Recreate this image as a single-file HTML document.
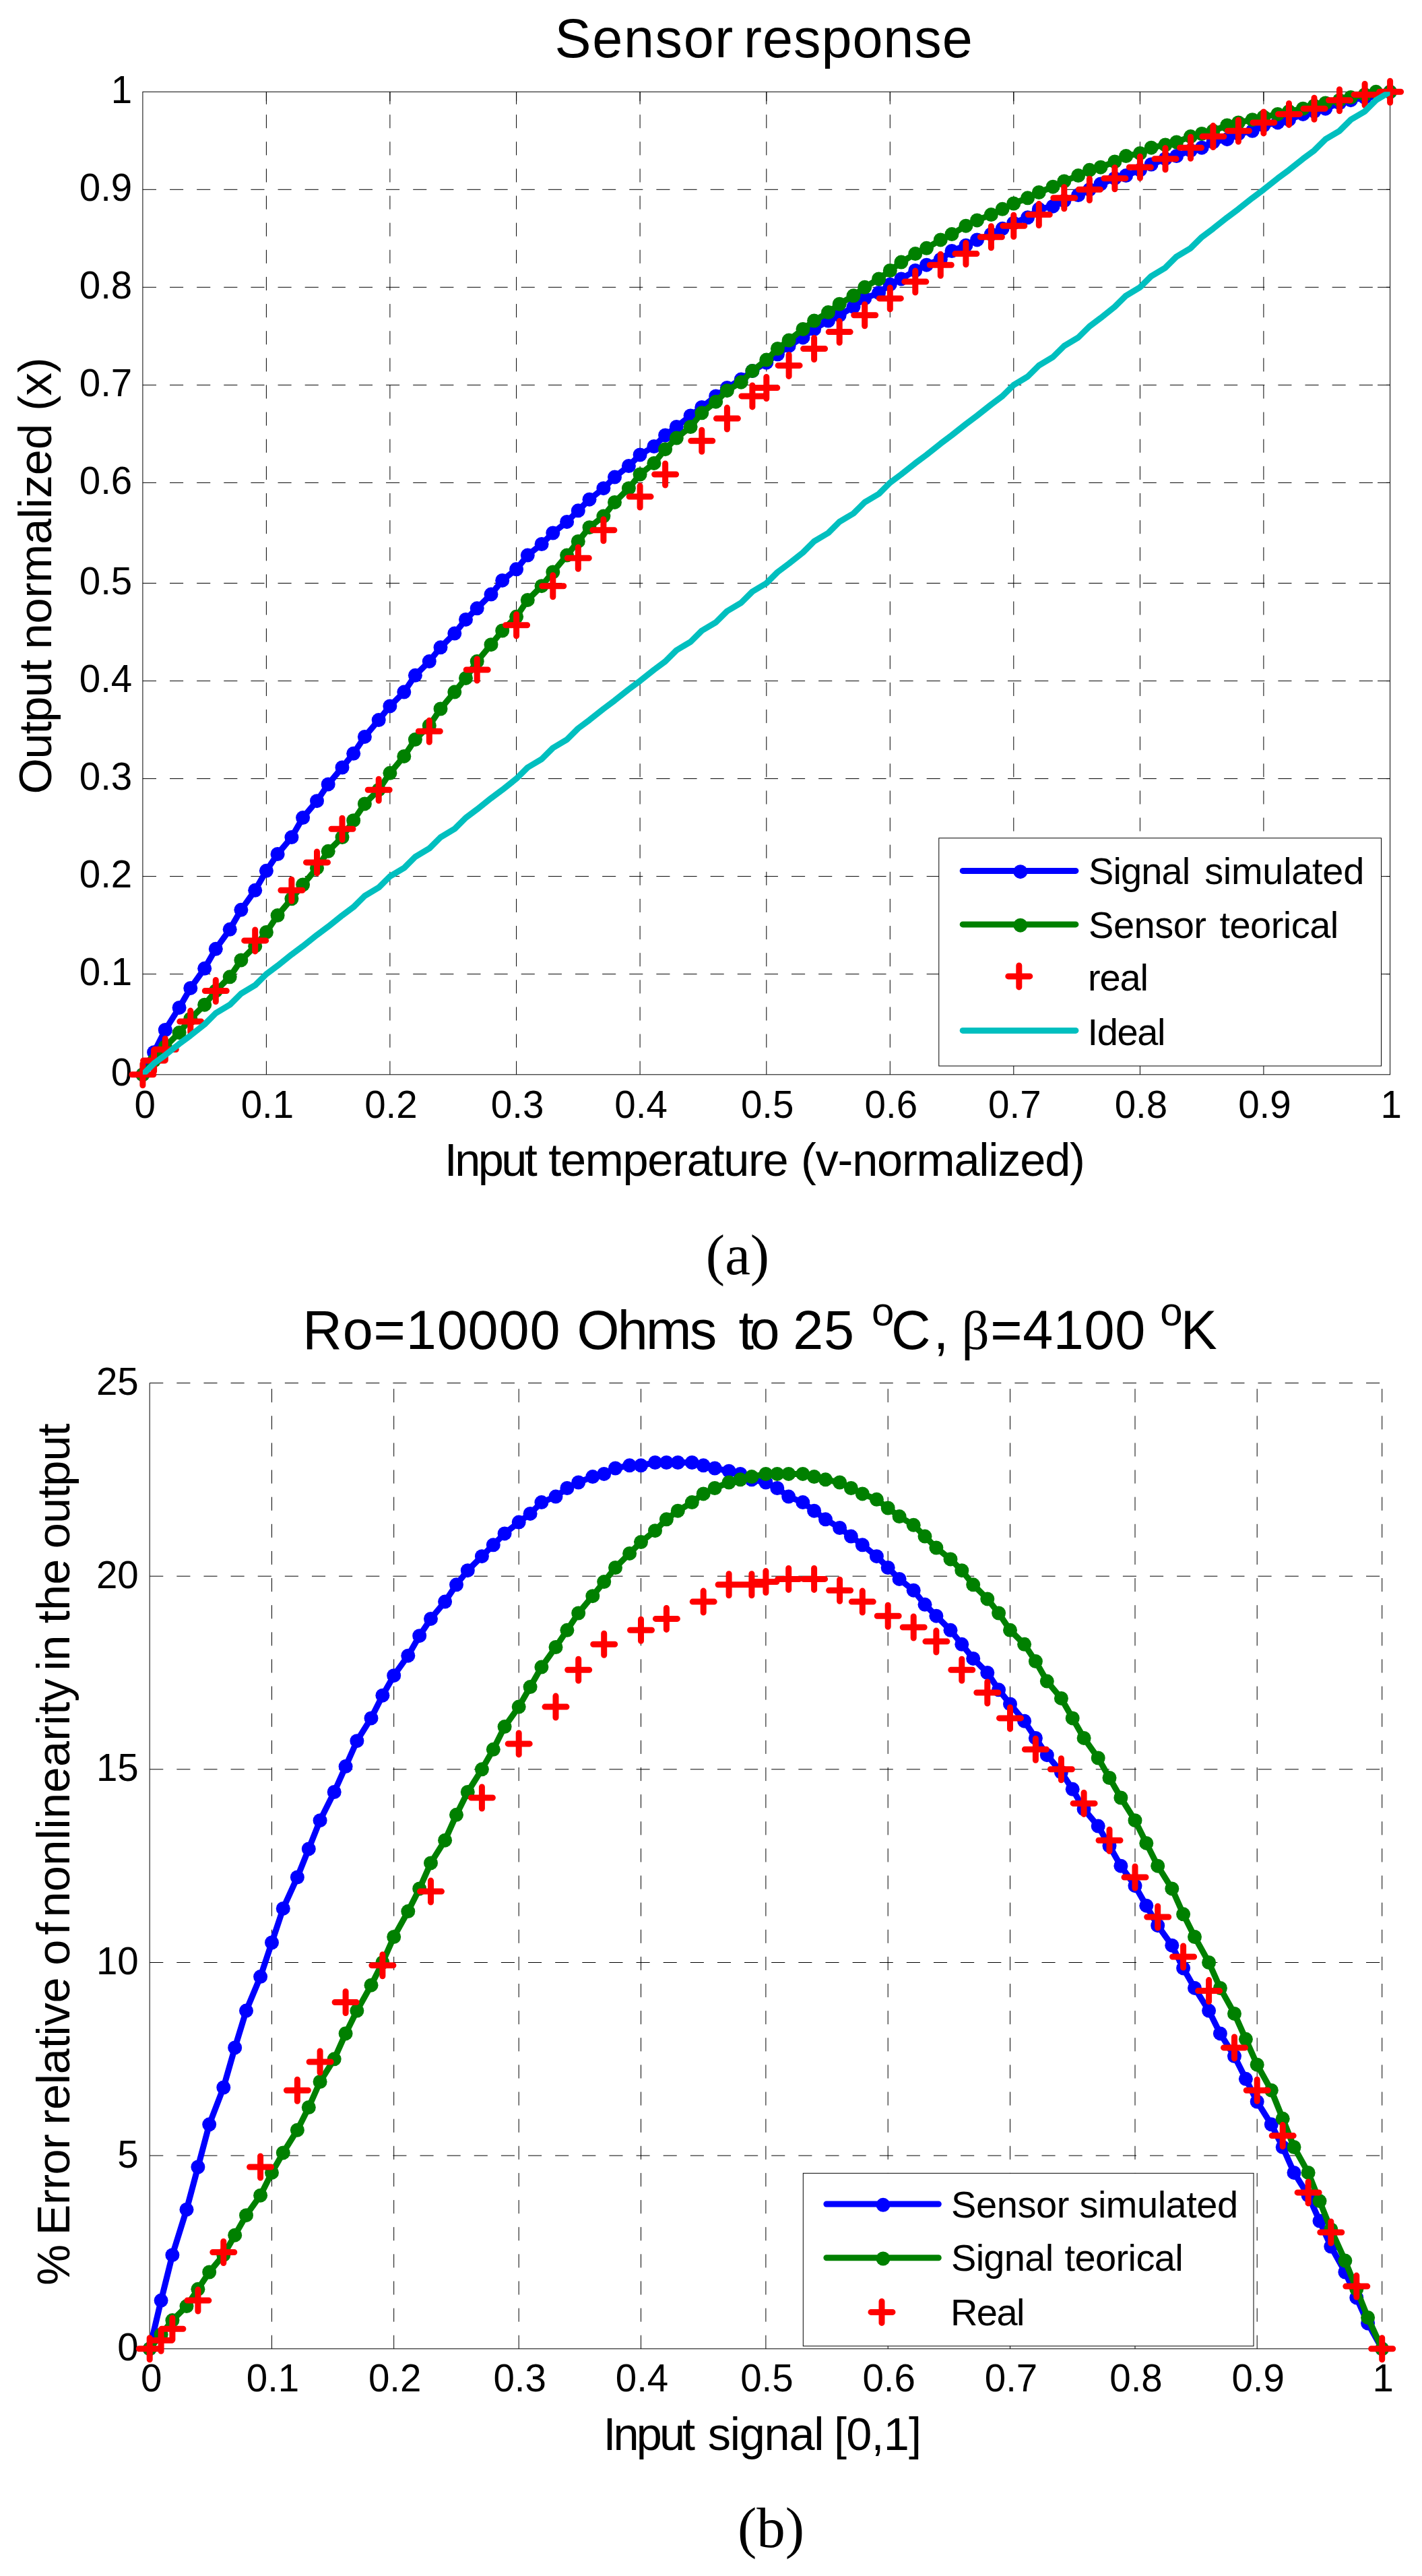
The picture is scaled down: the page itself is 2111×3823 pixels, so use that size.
<!DOCTYPE html>
<html><head><meta charset="utf-8"><title>Sensor response</title>
<style>html,body{margin:0;padding:0;background:#fff;overflow:hidden}svg{display:block}text{font-family:"Liberation Sans", sans-serif;fill:#000}text.s{font-family:"Liberation Serif", serif}</style>
</head><body>
<svg width="2111" height="3823" viewBox="0 0 2111 3823">
<rect width="2111" height="3823" fill="#fff"/>
<defs><clipPath id="c1"><rect x="211.9" y="136.3" width="1851.7" height="1458.5"/></clipPath><clipPath id="c2"><rect x="222.2" y="2052.5" width="1829.5" height="1433.3"/></clipPath></defs>
<g stroke="#000" stroke-width="1" fill="none">
<line x1="395.4" y1="1594.8" x2="395.4" y2="136.3" stroke-dasharray="20.1 20.03"/>
<line x1="395.4" y1="136.3" x2="395.4" y2="154.8" />
<line x1="578.9" y1="1594.8" x2="578.9" y2="136.3" stroke-dasharray="20.1 20.03"/>
<line x1="578.9" y1="136.3" x2="578.9" y2="154.8" />
<line x1="766.6" y1="1594.8" x2="766.6" y2="136.3" stroke-dasharray="20.1 20.03"/>
<line x1="766.6" y1="136.3" x2="766.6" y2="154.8" />
<line x1="950.1" y1="1594.8" x2="950.1" y2="136.3" stroke-dasharray="20.1 20.03"/>
<line x1="950.1" y1="136.3" x2="950.1" y2="154.8" />
<line x1="1137.8" y1="1594.8" x2="1137.8" y2="136.3" stroke-dasharray="20.1 20.03"/>
<line x1="1137.8" y1="136.3" x2="1137.8" y2="154.8" />
<line x1="1321.3" y1="1594.8" x2="1321.3" y2="136.3" stroke-dasharray="20.1 20.03"/>
<line x1="1321.3" y1="136.3" x2="1321.3" y2="154.8" />
<line x1="1504.8" y1="1594.8" x2="1504.8" y2="136.3" stroke-dasharray="20.1 20.03"/>
<line x1="1504.8" y1="136.3" x2="1504.8" y2="154.8" />
<line x1="1692.4" y1="1594.8" x2="1692.4" y2="136.3" stroke-dasharray="20.1 20.03"/>
<line x1="1692.4" y1="136.3" x2="1692.4" y2="154.8" />
<line x1="1875.9" y1="1594.8" x2="1875.9" y2="136.3" stroke-dasharray="20.1 20.03"/>
<line x1="1875.9" y1="136.3" x2="1875.9" y2="154.8" />
<line x1="211.9" y1="1445.6" x2="2063.6" y2="1445.6" stroke-dasharray="20.1 20.03"/>
<line x1="2063.6" y1="1445.6" x2="2045.1" y2="1445.6" />
<line x1="211.9" y1="1300.6" x2="2063.6" y2="1300.6" stroke-dasharray="20.1 20.03"/>
<line x1="2063.6" y1="1300.6" x2="2045.1" y2="1300.6" />
<line x1="211.9" y1="1155.6" x2="2063.6" y2="1155.6" stroke-dasharray="20.1 20.03"/>
<line x1="2063.6" y1="1155.6" x2="2045.1" y2="1155.6" />
<line x1="211.9" y1="1010.6" x2="2063.6" y2="1010.6" stroke-dasharray="20.1 20.03"/>
<line x1="2063.6" y1="1010.6" x2="2045.1" y2="1010.6" />
<line x1="211.9" y1="865.5" x2="2063.6" y2="865.5" stroke-dasharray="20.1 20.03"/>
<line x1="2063.6" y1="865.5" x2="2045.1" y2="865.5" />
<line x1="211.9" y1="716.4" x2="2063.6" y2="716.4" stroke-dasharray="20.1 20.03"/>
<line x1="2063.6" y1="716.4" x2="2045.1" y2="716.4" />
<line x1="211.9" y1="571.4" x2="2063.6" y2="571.4" stroke-dasharray="20.1 20.03"/>
<line x1="2063.6" y1="571.4" x2="2045.1" y2="571.4" />
<line x1="211.9" y1="426.3" x2="2063.6" y2="426.3" stroke-dasharray="20.1 20.03"/>
<line x1="2063.6" y1="426.3" x2="2045.1" y2="426.3" />
<line x1="211.9" y1="281.3" x2="2063.6" y2="281.3" stroke-dasharray="20.1 20.03"/>
<line x1="2063.6" y1="281.3" x2="2045.1" y2="281.3" />
<rect x="211.9" y="136.3" width="1851.7" height="1458.5"/>
</g>
<text x="215.1" y="1658.5" font-size="56.5" text-anchor="middle">0</text>
<text x="396.9" y="1658.5" font-size="56.5" text-anchor="middle">0.1</text>
<text x="580.4" y="1658.5" font-size="56.5" text-anchor="middle">0.2</text>
<text x="768.1" y="1658.5" font-size="56.5" text-anchor="middle">0.3</text>
<text x="951.6" y="1658.5" font-size="56.5" text-anchor="middle">0.4</text>
<text x="1139.2" y="1658.5" font-size="56.5" text-anchor="middle">0.5</text>
<text x="1322.8" y="1658.5" font-size="56.5" text-anchor="middle">0.6</text>
<text x="1506.3" y="1658.5" font-size="56.5" text-anchor="middle">0.7</text>
<text x="1693.9" y="1658.5" font-size="56.5" text-anchor="middle">0.8</text>
<text x="1877.4" y="1658.5" font-size="56.5" text-anchor="middle">0.9</text>
<text x="2065.1" y="1658.5" font-size="56.5" text-anchor="middle">1</text>
<text x="196.3" y="1611.3" font-size="56.5" text-anchor="end">0</text>
<text x="196.3" y="1462.1" font-size="56.5" text-anchor="end">0.1</text>
<text x="196.3" y="1317.1" font-size="56.5" text-anchor="end">0.2</text>
<text x="196.3" y="1172.1" font-size="56.5" text-anchor="end">0.3</text>
<text x="196.3" y="1027.1" font-size="56.5" text-anchor="end">0.4</text>
<text x="196.3" y="882" font-size="56.5" text-anchor="end">0.5</text>
<text x="196.3" y="732.9" font-size="56.5" text-anchor="end">0.6</text>
<text x="196.3" y="587.9" font-size="56.5" text-anchor="end">0.7</text>
<text x="196.3" y="442.8" font-size="56.5" text-anchor="end">0.8</text>
<text x="196.3" y="297.8" font-size="56.5" text-anchor="end">0.9</text>
<text x="196.3" y="152.8" font-size="56.5" text-anchor="end">1</text>
<polyline points="211.9,1594.8 228.6,1561.7 245.3,1528.5 266.1,1495.4 282.8,1466.4 303.7,1437.3 320.3,1408.3 341.2,1379.3 357.9,1350.3 378.7,1321.3 395.4,1292.3 412.1,1267.5 432.9,1242.6 449.6,1213.6 470.5,1188.7 487.2,1163.9 508,1139 524.7,1118.3 541.4,1093.4 562.2,1068.6 578.9,1047.9 599.8,1027.1 616.4,1002.3 637.3,981.6 654,960.8 674.8,940.1 691.5,919.4 708.2,902.8 729,882.1 745.7,861.4 766.6,844.8 783.3,824.1 804.1,807.5 820.8,791 841.6,774.4 858.3,757.8 875,741.2 895.9,724.7 912.5,708.1 933.4,691.5 950.1,675 970.9,662.5 987.6,645.9 1004.3,633.5 1025.1,616.9 1041.8,604.5 1062.7,587.9 1079.4,575.5 1100.2,563.1 1116.9,550.6 1137.8,538.2 1154.4,525.8 1171.1,513.4 1192,500.9 1208.6,488.5 1229.5,476.1 1246.2,467.8 1267,455.3 1283.7,442.9 1304.6,434.6 1321.3,422.2 1337.9,413.9 1358.8,401.5 1375.5,393.2 1396.3,384.9 1413,372.5 1433.9,364.2 1450.5,355.9 1471.4,347.6 1488.1,339.3 1504.8,331 1525.6,322.8 1542.3,310.3 1563.1,306.2 1579.8,297.9 1600.7,289.6 1617.4,281.3 1634,273 1654.9,264.7 1671.6,260.6 1692.4,252.3 1709.1,244 1730,235.7 1746.6,231.6 1767.5,223.3 1784.2,219.2 1800.9,210.9 1821.7,206.7 1838.4,198.5 1859.2,194.3 1875.9,186 1896.8,181.9 1913.5,177.7 1934.3,169.4 1951,165.3 1967.7,161.2 1988.5,152.9 2005.2,148.7 2026.1,144.6 2042.7,140.4 2063.6,136.3" fill="none" stroke="#0000ff" stroke-width="9.0" stroke-linejoin="round" stroke-linecap="round" clip-path="url(#c1)"/>
<g fill="#0000ff"><circle cx="211.9" cy="1594.8" r="10.5"/><circle cx="228.6" cy="1561.7" r="10.5"/><circle cx="245.3" cy="1528.5" r="10.5"/><circle cx="266.1" cy="1495.4" r="10.5"/><circle cx="282.8" cy="1466.4" r="10.5"/><circle cx="303.7" cy="1437.3" r="10.5"/><circle cx="320.3" cy="1408.3" r="10.5"/><circle cx="341.2" cy="1379.3" r="10.5"/><circle cx="357.9" cy="1350.3" r="10.5"/><circle cx="378.7" cy="1321.3" r="10.5"/><circle cx="395.4" cy="1292.3" r="10.5"/><circle cx="412.1" cy="1267.5" r="10.5"/><circle cx="432.9" cy="1242.6" r="10.5"/><circle cx="449.6" cy="1213.6" r="10.5"/><circle cx="470.5" cy="1188.7" r="10.5"/><circle cx="487.2" cy="1163.9" r="10.5"/><circle cx="508" cy="1139" r="10.5"/><circle cx="524.7" cy="1118.3" r="10.5"/><circle cx="541.4" cy="1093.4" r="10.5"/><circle cx="562.2" cy="1068.6" r="10.5"/><circle cx="578.9" cy="1047.9" r="10.5"/><circle cx="599.8" cy="1027.1" r="10.5"/><circle cx="616.4" cy="1002.3" r="10.5"/><circle cx="637.3" cy="981.6" r="10.5"/><circle cx="654" cy="960.8" r="10.5"/><circle cx="674.8" cy="940.1" r="10.5"/><circle cx="691.5" cy="919.4" r="10.5"/><circle cx="708.2" cy="902.8" r="10.5"/><circle cx="729" cy="882.1" r="10.5"/><circle cx="745.7" cy="861.4" r="10.5"/><circle cx="766.6" cy="844.8" r="10.5"/><circle cx="783.3" cy="824.1" r="10.5"/><circle cx="804.1" cy="807.5" r="10.5"/><circle cx="820.8" cy="791" r="10.5"/><circle cx="841.6" cy="774.4" r="10.5"/><circle cx="858.3" cy="757.8" r="10.5"/><circle cx="875" cy="741.2" r="10.5"/><circle cx="895.9" cy="724.7" r="10.5"/><circle cx="912.5" cy="708.1" r="10.5"/><circle cx="933.4" cy="691.5" r="10.5"/><circle cx="950.1" cy="675" r="10.5"/><circle cx="970.9" cy="662.5" r="10.5"/><circle cx="987.6" cy="645.9" r="10.5"/><circle cx="1004.3" cy="633.5" r="10.5"/><circle cx="1025.1" cy="616.9" r="10.5"/><circle cx="1041.8" cy="604.5" r="10.5"/><circle cx="1062.7" cy="587.9" r="10.5"/><circle cx="1079.4" cy="575.5" r="10.5"/><circle cx="1100.2" cy="563.1" r="10.5"/><circle cx="1116.9" cy="550.6" r="10.5"/><circle cx="1137.8" cy="538.2" r="10.5"/><circle cx="1154.4" cy="525.8" r="10.5"/><circle cx="1171.1" cy="513.4" r="10.5"/><circle cx="1192" cy="500.9" r="10.5"/><circle cx="1208.6" cy="488.5" r="10.5"/><circle cx="1229.5" cy="476.1" r="10.5"/><circle cx="1246.2" cy="467.8" r="10.5"/><circle cx="1267" cy="455.3" r="10.5"/><circle cx="1283.7" cy="442.9" r="10.5"/><circle cx="1304.6" cy="434.6" r="10.5"/><circle cx="1321.3" cy="422.2" r="10.5"/><circle cx="1337.9" cy="413.9" r="10.5"/><circle cx="1358.8" cy="401.5" r="10.5"/><circle cx="1375.5" cy="393.2" r="10.5"/><circle cx="1396.3" cy="384.9" r="10.5"/><circle cx="1413" cy="372.5" r="10.5"/><circle cx="1433.9" cy="364.2" r="10.5"/><circle cx="1450.5" cy="355.9" r="10.5"/><circle cx="1471.4" cy="347.6" r="10.5"/><circle cx="1488.1" cy="339.3" r="10.5"/><circle cx="1504.8" cy="331" r="10.5"/><circle cx="1525.6" cy="322.8" r="10.5"/><circle cx="1542.3" cy="310.3" r="10.5"/><circle cx="1563.1" cy="306.2" r="10.5"/><circle cx="1579.8" cy="297.9" r="10.5"/><circle cx="1600.7" cy="289.6" r="10.5"/><circle cx="1617.4" cy="281.3" r="10.5"/><circle cx="1634" cy="273" r="10.5"/><circle cx="1654.9" cy="264.7" r="10.5"/><circle cx="1671.6" cy="260.6" r="10.5"/><circle cx="1692.4" cy="252.3" r="10.5"/><circle cx="1709.1" cy="244" r="10.5"/><circle cx="1730" cy="235.7" r="10.5"/><circle cx="1746.6" cy="231.6" r="10.5"/><circle cx="1767.5" cy="223.3" r="10.5"/><circle cx="1784.2" cy="219.2" r="10.5"/><circle cx="1800.9" cy="210.9" r="10.5"/><circle cx="1821.7" cy="206.7" r="10.5"/><circle cx="1838.4" cy="198.5" r="10.5"/><circle cx="1859.2" cy="194.3" r="10.5"/><circle cx="1875.9" cy="186" r="10.5"/><circle cx="1896.8" cy="181.9" r="10.5"/><circle cx="1913.5" cy="177.7" r="10.5"/><circle cx="1934.3" cy="169.4" r="10.5"/><circle cx="1951" cy="165.3" r="10.5"/><circle cx="1967.7" cy="161.2" r="10.5"/><circle cx="1988.5" cy="152.9" r="10.5"/><circle cx="2005.2" cy="148.7" r="10.5"/><circle cx="2026.1" cy="144.6" r="10.5"/><circle cx="2042.7" cy="140.4" r="10.5"/><circle cx="2063.6" cy="136.3" r="10.5"/></g>
<polyline points="211.9,1594.8 228.6,1574.1 245.3,1553.4 266.1,1532.6 282.8,1511.9 303.7,1491.2 320.3,1470.5 341.2,1449.8 357.9,1424.9 378.7,1404.2 395.4,1383.5 412.1,1358.6 432.9,1333.8 449.6,1313 470.5,1288.2 487.2,1263.3 508,1242.6 524.7,1217.7 541.4,1192.9 562.2,1172.2 578.9,1147.3 599.8,1122.4 616.4,1097.6 637.3,1076.9 654,1052 674.8,1027.1 691.5,1006.4 708.2,981.6 729,956.7 745.7,936 766.6,915.3 783.3,890.4 804.1,869.7 820.8,849 841.6,824.1 858.3,803.4 875,782.7 895.9,766.1 912.5,745.4 933.4,724.7 950.1,704 970.9,687.4 987.6,666.7 1004.3,650.1 1025.1,633.5 1041.8,612.8 1062.7,596.2 1079.4,579.7 1100.2,567.2 1116.9,550.6 1137.8,534.1 1154.4,517.5 1171.1,505.1 1192,488.5 1208.6,476.1 1229.5,463.6 1246.2,451.2 1267,438.8 1283.7,426.3 1304.6,413.9 1321.3,401.5 1337.9,389.1 1358.8,376.6 1375.5,368.3 1396.3,355.9 1413,347.6 1433.9,335.2 1450.5,326.9 1471.4,318.6 1488.1,310.3 1504.8,302 1525.6,293.8 1542.3,285.5 1563.1,277.2 1579.8,268.9 1600.7,260.6 1617.4,252.3 1634,248.2 1654.9,239.9 1671.6,231.6 1692.4,227.5 1709.1,219.2 1730,215 1746.6,210.9 1767.5,202.6 1784.2,198.5 1800.9,194.3 1821.7,186 1838.4,181.9 1859.2,177.7 1875.9,173.6 1896.8,169.4 1913.5,165.3 1934.3,161.2 1951,157 1967.7,152.9 1988.5,148.7 2005.2,144.6 2026.1,140.4 2042.7,136.3 2063.6,136.3" fill="none" stroke="#008000" stroke-width="9.0" stroke-linejoin="round" stroke-linecap="round" clip-path="url(#c1)"/>
<g fill="#008000"><circle cx="211.9" cy="1594.8" r="10.5"/><circle cx="228.6" cy="1574.1" r="10.5"/><circle cx="245.3" cy="1553.4" r="10.5"/><circle cx="266.1" cy="1532.6" r="10.5"/><circle cx="282.8" cy="1511.9" r="10.5"/><circle cx="303.7" cy="1491.2" r="10.5"/><circle cx="320.3" cy="1470.5" r="10.5"/><circle cx="341.2" cy="1449.8" r="10.5"/><circle cx="357.9" cy="1424.9" r="10.5"/><circle cx="378.7" cy="1404.2" r="10.5"/><circle cx="395.4" cy="1383.5" r="10.5"/><circle cx="412.1" cy="1358.6" r="10.5"/><circle cx="432.9" cy="1333.8" r="10.5"/><circle cx="449.6" cy="1313" r="10.5"/><circle cx="470.5" cy="1288.2" r="10.5"/><circle cx="487.2" cy="1263.3" r="10.5"/><circle cx="508" cy="1242.6" r="10.5"/><circle cx="524.7" cy="1217.7" r="10.5"/><circle cx="541.4" cy="1192.9" r="10.5"/><circle cx="562.2" cy="1172.2" r="10.5"/><circle cx="578.9" cy="1147.3" r="10.5"/><circle cx="599.8" cy="1122.4" r="10.5"/><circle cx="616.4" cy="1097.6" r="10.5"/><circle cx="637.3" cy="1076.9" r="10.5"/><circle cx="654" cy="1052" r="10.5"/><circle cx="674.8" cy="1027.1" r="10.5"/><circle cx="691.5" cy="1006.4" r="10.5"/><circle cx="708.2" cy="981.6" r="10.5"/><circle cx="729" cy="956.7" r="10.5"/><circle cx="745.7" cy="936" r="10.5"/><circle cx="766.6" cy="915.3" r="10.5"/><circle cx="783.3" cy="890.4" r="10.5"/><circle cx="804.1" cy="869.7" r="10.5"/><circle cx="820.8" cy="849" r="10.5"/><circle cx="841.6" cy="824.1" r="10.5"/><circle cx="858.3" cy="803.4" r="10.5"/><circle cx="875" cy="782.7" r="10.5"/><circle cx="895.9" cy="766.1" r="10.5"/><circle cx="912.5" cy="745.4" r="10.5"/><circle cx="933.4" cy="724.7" r="10.5"/><circle cx="950.1" cy="704" r="10.5"/><circle cx="970.9" cy="687.4" r="10.5"/><circle cx="987.6" cy="666.7" r="10.5"/><circle cx="1004.3" cy="650.1" r="10.5"/><circle cx="1025.1" cy="633.5" r="10.5"/><circle cx="1041.8" cy="612.8" r="10.5"/><circle cx="1062.7" cy="596.2" r="10.5"/><circle cx="1079.4" cy="579.7" r="10.5"/><circle cx="1100.2" cy="567.2" r="10.5"/><circle cx="1116.9" cy="550.6" r="10.5"/><circle cx="1137.8" cy="534.1" r="10.5"/><circle cx="1154.4" cy="517.5" r="10.5"/><circle cx="1171.1" cy="505.1" r="10.5"/><circle cx="1192" cy="488.5" r="10.5"/><circle cx="1208.6" cy="476.1" r="10.5"/><circle cx="1229.5" cy="463.6" r="10.5"/><circle cx="1246.2" cy="451.2" r="10.5"/><circle cx="1267" cy="438.8" r="10.5"/><circle cx="1283.7" cy="426.3" r="10.5"/><circle cx="1304.6" cy="413.9" r="10.5"/><circle cx="1321.3" cy="401.5" r="10.5"/><circle cx="1337.9" cy="389.1" r="10.5"/><circle cx="1358.8" cy="376.6" r="10.5"/><circle cx="1375.5" cy="368.3" r="10.5"/><circle cx="1396.3" cy="355.9" r="10.5"/><circle cx="1413" cy="347.6" r="10.5"/><circle cx="1433.9" cy="335.2" r="10.5"/><circle cx="1450.5" cy="326.9" r="10.5"/><circle cx="1471.4" cy="318.6" r="10.5"/><circle cx="1488.1" cy="310.3" r="10.5"/><circle cx="1504.8" cy="302" r="10.5"/><circle cx="1525.6" cy="293.8" r="10.5"/><circle cx="1542.3" cy="285.5" r="10.5"/><circle cx="1563.1" cy="277.2" r="10.5"/><circle cx="1579.8" cy="268.9" r="10.5"/><circle cx="1600.7" cy="260.6" r="10.5"/><circle cx="1617.4" cy="252.3" r="10.5"/><circle cx="1634" cy="248.2" r="10.5"/><circle cx="1654.9" cy="239.9" r="10.5"/><circle cx="1671.6" cy="231.6" r="10.5"/><circle cx="1692.4" cy="227.5" r="10.5"/><circle cx="1709.1" cy="219.2" r="10.5"/><circle cx="1730" cy="215" r="10.5"/><circle cx="1746.6" cy="210.9" r="10.5"/><circle cx="1767.5" cy="202.6" r="10.5"/><circle cx="1784.2" cy="198.5" r="10.5"/><circle cx="1800.9" cy="194.3" r="10.5"/><circle cx="1821.7" cy="186" r="10.5"/><circle cx="1838.4" cy="181.9" r="10.5"/><circle cx="1859.2" cy="177.7" r="10.5"/><circle cx="1875.9" cy="173.6" r="10.5"/><circle cx="1896.8" cy="169.4" r="10.5"/><circle cx="1913.5" cy="165.3" r="10.5"/><circle cx="1934.3" cy="161.2" r="10.5"/><circle cx="1951" cy="157" r="10.5"/><circle cx="1967.7" cy="152.9" r="10.5"/><circle cx="1988.5" cy="148.7" r="10.5"/><circle cx="2005.2" cy="144.6" r="10.5"/><circle cx="2026.1" cy="140.4" r="10.5"/><circle cx="2042.7" cy="136.3" r="10.5"/><circle cx="2063.6" cy="136.3" r="10.5"/></g>
<path d="M195.9 1594.8H227.9M211.9 1578.8V1610.8M212.6 1574.1H244.6M228.6 1558.1V1590.1M229.3 1557.5H261.3M245.3 1541.5V1573.5M266.8 1516.1H298.8M282.8 1500.1V1532.1M304.3 1470.5H336.3M320.3 1454.5V1486.5M362.7 1395.9H394.7M378.7 1379.9V1411.9M416.9 1321.3H448.9M432.9 1305.3V1337.3M454.5 1279.9H486.5M470.5 1263.9V1295.9M492 1230.2H524M508 1214.2V1246.2M546.2 1172.2H578.2M562.2 1156.2V1188.2M621.3 1085.2H653.3M637.3 1069.2V1101.2M692.2 994H724.2M708.2 978V1010M750.6 927.7H782.6M766.6 911.7V943.7M804.8 869.7H836.8M820.8 853.7V885.7M842.3 828.3H874.3M858.3 812.3V844.3M879.9 786.8H911.9M895.9 770.8V802.8M934.1 737.1H966.1M950.1 721.1V753.1M971.6 704H1003.6M987.6 688V720M1025.8 654.2H1057.8M1041.8 638.2V670.2M1063.4 621.1H1095.4M1079.4 605.1V637.1M1100.9 587.9H1132.9M1116.9 571.9V603.9M1121.8 575.5H1153.8M1137.8 559.5V591.5M1155.1 542.4H1187.1M1171.1 526.4V558.4M1192.6 517.5H1224.6M1208.6 501.5V533.5M1230.2 492.6H1262.2M1246.2 476.6V508.6M1267.7 467.8H1299.7M1283.7 451.8V483.8M1305.3 442.9H1337.3M1321.3 426.9V458.9M1342.8 418.1H1374.8M1358.8 402.1V434.1M1380.3 393.2H1412.3M1396.3 377.2V409.2M1417.9 376.6H1449.9M1433.9 360.6V392.6M1455.4 351.8H1487.4M1471.4 335.8V367.8M1488.8 335.2H1520.8M1504.8 319.2V351.2M1526.3 318.6H1558.3M1542.3 302.6V334.6M1563.8 293.8H1595.8M1579.8 277.8V309.8M1601.4 281.3H1633.4M1617.4 265.3V297.3M1638.9 264.7H1670.9M1654.9 248.7V280.7M1676.4 248.2H1708.4M1692.4 232.2V264.2M1714 235.7H1746M1730 219.7V251.7M1751.5 219.2H1783.5M1767.5 203.2V235.2M1784.9 202.6H1816.9M1800.9 186.6V218.6M1822.4 194.3H1854.4M1838.4 178.3V210.3M1859.9 181.9H1891.9M1875.9 165.9V197.9M1897.5 169.4H1929.5M1913.5 153.4V185.4M1935 161.2H1967M1951 145.2V177.2M1972.5 148.7H2004.5M1988.5 132.7V164.7M2010.1 140.4H2042.1M2026.1 124.4V156.4M2047.6 136.3H2079.6M2063.6 120.3V152.3" fill="none" stroke="#ff0000" stroke-width="9.0" stroke-linecap="round"/>
<polyline points="211.9,1594.8 228.6,1578.2 245.3,1565.8 266.1,1549.2 282.8,1536.8 303.7,1520.2 320.3,1503.6 341.2,1491.2 357.9,1474.6 378.7,1462.2 395.4,1445.6 412.1,1433.2 432.9,1416.6 449.6,1404.2 470.5,1387.6 487.2,1375.2 508,1358.6 524.7,1346.2 541.4,1329.6 562.2,1317.2 578.9,1300.6 599.8,1288.2 616.4,1271.6 637.3,1259.2 654,1242.6 674.8,1230.2 691.5,1213.6 708.2,1201.2 729,1184.6 745.7,1172.2 766.6,1155.6 783.3,1139 804.1,1126.6 820.8,1110 841.6,1097.6 858.3,1081 875,1068.6 895.9,1052 912.5,1039.6 933.4,1023 950.1,1010.6 970.9,994 987.6,981.6 1004.3,965 1025.1,952.6 1041.8,936 1062.7,923.6 1079.4,907 1100.2,894.6 1116.9,878 1137.8,865.5 1154.4,849 1171.1,836.5 1192,820 1208.6,803.4 1229.5,791 1246.2,774.4 1267,762 1283.7,745.4 1304.6,733 1321.3,716.4 1337.9,704 1358.8,687.4 1375.5,675 1396.3,658.4 1413,645.9 1433.9,629.4 1450.5,616.9 1471.4,600.4 1488.1,587.9 1504.8,571.4 1525.6,558.9 1542.3,542.4 1563.1,529.9 1579.8,513.4 1600.7,500.9 1617.4,484.4 1634,471.9 1654.9,455.3 1671.6,438.8 1692.4,426.3 1709.1,409.8 1730,397.3 1746.6,380.8 1767.5,368.3 1784.2,351.8 1800.9,339.3 1821.7,322.8 1838.4,310.3 1859.2,293.8 1875.9,281.3 1896.8,264.7 1913.5,252.3 1934.3,235.7 1951,223.3 1967.7,206.7 1988.5,194.3 2005.2,177.7 2026.1,165.3 2042.7,148.7 2063.6,136.3" fill="none" stroke="#00bfbf" stroke-width="9.0" stroke-linejoin="round" stroke-linecap="round" clip-path="url(#c1)"/>
<text x="823.6" y="85" font-size="81" letter-spacing="1.61">Sensor</text>
<text x="1104.1" y="85" font-size="81" letter-spacing="0.93">response</text>
<text x="659.8" y="1745.4" font-size="68.5" letter-spacing="-3.61">Input</text>
<text x="814.3" y="1745.4" font-size="68.5" letter-spacing="-1.31">temperature</text>
<text x="1189" y="1745.4" font-size="68.5" letter-spacing="-1.22">(v-normalized)</text>
<text x="76.3" y="1178.4" font-size="68.5" letter-spacing="-1.26" transform="rotate(-90 76.3 1178.4)">Output</text>
<text x="76.3" y="963.5" font-size="68.5" letter-spacing="-0.06" transform="rotate(-90 76.3 963.5)">normalized</text>
<text x="76.3" y="609.8" font-size="68.5" letter-spacing="-0.28" transform="rotate(-90 76.3 609.8)">(x)</text>
<text x="1095" y="1890.5" font-size="85" text-anchor="middle" class="s">(a)</text>
<rect x="1393.8" y="1243.8" width="656.7" height="338.2" fill="#fff" stroke="#000" stroke-width="1"/>
<line x1="1429.2" y1="1292.4" x2="1596.9" y2="1292.4" stroke="#0000ff" stroke-width="9.0" stroke-linecap="round"/>
<circle cx="1514.8" cy="1293.7" r="10.5" fill="#0000ff"/>
<text x="1616.1" y="1312.2" font-size="56" letter-spacing="-0.89">Signal</text>
<text x="1788.2" y="1312.2" font-size="56" letter-spacing="-0.32">simulated</text>
<line x1="1429.2" y1="1371.9" x2="1596.9" y2="1371.9" stroke="#008000" stroke-width="9.0" stroke-linecap="round"/>
<circle cx="1514.8" cy="1373.2" r="10.5" fill="#008000"/>
<text x="1616.1" y="1392" font-size="56" letter-spacing="-0.52">Sensor</text>
<text x="1810.5" y="1392" font-size="56" letter-spacing="-0.55">teorical</text>
<path d="M1496.8 1448.9H1528.8M1512.8 1432.9V1464.9" fill="none" stroke="#ff0000" stroke-width="9.0" stroke-linecap="round"/>
<text x="1615.1" y="1469.6" font-size="56" letter-spacing="-1.15">real</text>
<line x1="1429.2" y1="1529.4" x2="1596.9" y2="1529.4" stroke="#00bfbf" stroke-width="9.0" stroke-linecap="round"/>
<text x="1614.6" y="1550.6" font-size="56" letter-spacing="-1.40">Ideal</text>
<g stroke="#000" stroke-width="1" fill="none">
<line x1="403.5" y1="3485.8" x2="403.5" y2="2052.5" stroke-dasharray="20.1 20.03"/>
<line x1="584.7" y1="3485.8" x2="584.7" y2="2052.5" stroke-dasharray="20.1 20.03"/>
<line x1="770.2" y1="3485.8" x2="770.2" y2="2052.5" stroke-dasharray="20.1 20.03"/>
<line x1="951.5" y1="3485.8" x2="951.5" y2="2052.5" stroke-dasharray="20.1 20.03"/>
<line x1="1136.9" y1="3485.8" x2="1136.9" y2="2052.5" stroke-dasharray="20.1 20.03"/>
<line x1="1318.2" y1="3485.8" x2="1318.2" y2="2052.5" stroke-dasharray="20.1 20.03"/>
<line x1="1499.5" y1="3485.8" x2="1499.5" y2="2052.5" stroke-dasharray="20.1 20.03"/>
<line x1="1685" y1="3485.8" x2="1685" y2="2052.5" stroke-dasharray="20.1 20.03"/>
<line x1="1866.2" y1="3485.8" x2="1866.2" y2="2052.5" stroke-dasharray="20.1 20.03"/>
<line x1="2051.7" y1="3485.8" x2="2051.7" y2="2052.5" stroke-dasharray="20.1 20.03"/>
<line x1="222.2" y1="3199.1" x2="2051.7" y2="3199.1" stroke-dasharray="20.1 20.03"/>
<line x1="222.2" y1="2912.5" x2="2051.7" y2="2912.5" stroke-dasharray="20.1 20.03"/>
<line x1="222.2" y1="2625.8" x2="2051.7" y2="2625.8" stroke-dasharray="20.1 20.03"/>
<line x1="222.2" y1="2339.2" x2="2051.7" y2="2339.2" stroke-dasharray="20.1 20.03"/>
<line x1="222.2" y1="2052.5" x2="2051.7" y2="2052.5" stroke-dasharray="20.1 20.03"/>
<line x1="222.2" y1="2052.5" x2="222.2" y2="3485.8" />
<line x1="222.2" y1="3485.8" x2="2051.7" y2="3485.8" />
</g>
<text x="224.7" y="3548.7" font-size="56.5" text-anchor="middle">0</text>
<text x="405" y="3548.7" font-size="56.5" text-anchor="middle">0.1</text>
<text x="586.2" y="3548.7" font-size="56.5" text-anchor="middle">0.2</text>
<text x="771.7" y="3548.7" font-size="56.5" text-anchor="middle">0.3</text>
<text x="953" y="3548.7" font-size="56.5" text-anchor="middle">0.4</text>
<text x="1138.4" y="3548.7" font-size="56.5" text-anchor="middle">0.5</text>
<text x="1319.7" y="3548.7" font-size="56.5" text-anchor="middle">0.6</text>
<text x="1501" y="3548.7" font-size="56.5" text-anchor="middle">0.7</text>
<text x="1686.5" y="3548.7" font-size="56.5" text-anchor="middle">0.8</text>
<text x="1867.7" y="3548.7" font-size="56.5" text-anchor="middle">0.9</text>
<text x="2053.2" y="3548.7" font-size="56.5" text-anchor="middle">1</text>
<text x="205.8" y="3503.3" font-size="56.5" text-anchor="end">0</text>
<text x="205.8" y="3216.6" font-size="56.5" text-anchor="end">5</text>
<text x="205.8" y="2930" font-size="56.5" text-anchor="end">10</text>
<text x="205.8" y="2643.3" font-size="56.5" text-anchor="end">15</text>
<text x="205.8" y="2356.7" font-size="56.5" text-anchor="end">20</text>
<text x="205.8" y="2070" font-size="56.5" text-anchor="end">25</text>
<polyline points="222.2,3485.8 239.1,3414.1 255.9,3346.7 277,3279.2 293.9,3216 310.7,3152.8 331.8,3098 348.7,3038.9 365.5,2984.1 386.6,2933.6 403.5,2883 420.3,2832.4 441.4,2786 458.3,2743.9 475.1,2701.7 496.2,2659.5 513.1,2621.6 529.9,2583.7 551,2549.9 567.9,2516.2 584.7,2486.7 605.8,2457.2 622.7,2427.7 639.5,2402.4 660.6,2377.1 677.5,2351.8 694.3,2330.7 715.4,2309.7 732.3,2292.8 749.1,2275.9 770.2,2259.1 787.1,2246.4 803.9,2229.6 825,2221.1 841.9,2208.5 858.7,2200 879.8,2191.6 896.7,2187.4 913.5,2179 934.6,2174.8 951.5,2174.8 972.5,2170.5 989.4,2170.5 1006.3,2170.5 1027.3,2170.5 1044.2,2174.8 1061.1,2179 1082.1,2183.2 1099,2187.4 1115.9,2195.8 1136.9,2200 1153.8,2208.5 1170.7,2221.1 1191.8,2229.6 1208.6,2242.2 1225.5,2254.8 1246.6,2267.5 1263.4,2280.1 1280.3,2292.8 1301.4,2309.7 1318.2,2326.5 1335.1,2343.4 1356.2,2360.2 1373,2381.3 1389.9,2398.2 1411,2419.3 1427.8,2440.3 1444.7,2461.4 1465.8,2482.5 1482.6,2507.8 1499.5,2528.9 1520.6,2554.2 1537.4,2579.4 1554.3,2604.7 1575.4,2630 1592.2,2655.3 1609.1,2684.8 1630.2,2710.1 1647,2739.6 1663.9,2769.2 1685,2798.7 1701.8,2828.2 1718.7,2857.7 1739.8,2887.2 1756.6,2920.9 1773.5,2950.4 1794.6,2984.1 1811.4,3017.9 1832.5,3051.6 1849.4,3085.3 1866.2,3119 1887.3,3152.8 1904.2,3186.5 1921,3224.4 1942.1,3258.2 1959,3296.1 1975.8,3334 1996.9,3372 2013.8,3409.9 2030.6,3447.9 2051.7,3485.8" fill="none" stroke="#0000ff" stroke-width="9.0" stroke-linejoin="round" stroke-linecap="round" clip-path="url(#c2)"/>
<g fill="#0000ff"><circle cx="222.2" cy="3485.8" r="10.5"/><circle cx="239.1" cy="3414.1" r="10.5"/><circle cx="255.9" cy="3346.7" r="10.5"/><circle cx="277" cy="3279.2" r="10.5"/><circle cx="293.9" cy="3216" r="10.5"/><circle cx="310.7" cy="3152.8" r="10.5"/><circle cx="331.8" cy="3098" r="10.5"/><circle cx="348.7" cy="3038.9" r="10.5"/><circle cx="365.5" cy="2984.1" r="10.5"/><circle cx="386.6" cy="2933.6" r="10.5"/><circle cx="403.5" cy="2883" r="10.5"/><circle cx="420.3" cy="2832.4" r="10.5"/><circle cx="441.4" cy="2786" r="10.5"/><circle cx="458.3" cy="2743.9" r="10.5"/><circle cx="475.1" cy="2701.7" r="10.5"/><circle cx="496.2" cy="2659.5" r="10.5"/><circle cx="513.1" cy="2621.6" r="10.5"/><circle cx="529.9" cy="2583.7" r="10.5"/><circle cx="551" cy="2549.9" r="10.5"/><circle cx="567.9" cy="2516.2" r="10.5"/><circle cx="584.7" cy="2486.7" r="10.5"/><circle cx="605.8" cy="2457.2" r="10.5"/><circle cx="622.7" cy="2427.7" r="10.5"/><circle cx="639.5" cy="2402.4" r="10.5"/><circle cx="660.6" cy="2377.1" r="10.5"/><circle cx="677.5" cy="2351.8" r="10.5"/><circle cx="694.3" cy="2330.7" r="10.5"/><circle cx="715.4" cy="2309.7" r="10.5"/><circle cx="732.3" cy="2292.8" r="10.5"/><circle cx="749.1" cy="2275.9" r="10.5"/><circle cx="770.2" cy="2259.1" r="10.5"/><circle cx="787.1" cy="2246.4" r="10.5"/><circle cx="803.9" cy="2229.6" r="10.5"/><circle cx="825" cy="2221.1" r="10.5"/><circle cx="841.9" cy="2208.5" r="10.5"/><circle cx="858.7" cy="2200" r="10.5"/><circle cx="879.8" cy="2191.6" r="10.5"/><circle cx="896.7" cy="2187.4" r="10.5"/><circle cx="913.5" cy="2179" r="10.5"/><circle cx="934.6" cy="2174.8" r="10.5"/><circle cx="951.5" cy="2174.8" r="10.5"/><circle cx="972.5" cy="2170.5" r="10.5"/><circle cx="989.4" cy="2170.5" r="10.5"/><circle cx="1006.3" cy="2170.5" r="10.5"/><circle cx="1027.3" cy="2170.5" r="10.5"/><circle cx="1044.2" cy="2174.8" r="10.5"/><circle cx="1061.1" cy="2179" r="10.5"/><circle cx="1082.1" cy="2183.2" r="10.5"/><circle cx="1099" cy="2187.4" r="10.5"/><circle cx="1115.9" cy="2195.8" r="10.5"/><circle cx="1136.9" cy="2200" r="10.5"/><circle cx="1153.8" cy="2208.5" r="10.5"/><circle cx="1170.7" cy="2221.1" r="10.5"/><circle cx="1191.8" cy="2229.6" r="10.5"/><circle cx="1208.6" cy="2242.2" r="10.5"/><circle cx="1225.5" cy="2254.8" r="10.5"/><circle cx="1246.6" cy="2267.5" r="10.5"/><circle cx="1263.4" cy="2280.1" r="10.5"/><circle cx="1280.3" cy="2292.8" r="10.5"/><circle cx="1301.4" cy="2309.7" r="10.5"/><circle cx="1318.2" cy="2326.5" r="10.5"/><circle cx="1335.1" cy="2343.4" r="10.5"/><circle cx="1356.2" cy="2360.2" r="10.5"/><circle cx="1373" cy="2381.3" r="10.5"/><circle cx="1389.9" cy="2398.2" r="10.5"/><circle cx="1411" cy="2419.3" r="10.5"/><circle cx="1427.8" cy="2440.3" r="10.5"/><circle cx="1444.7" cy="2461.4" r="10.5"/><circle cx="1465.8" cy="2482.5" r="10.5"/><circle cx="1482.6" cy="2507.8" r="10.5"/><circle cx="1499.5" cy="2528.9" r="10.5"/><circle cx="1520.6" cy="2554.2" r="10.5"/><circle cx="1537.4" cy="2579.4" r="10.5"/><circle cx="1554.3" cy="2604.7" r="10.5"/><circle cx="1575.4" cy="2630" r="10.5"/><circle cx="1592.2" cy="2655.3" r="10.5"/><circle cx="1609.1" cy="2684.8" r="10.5"/><circle cx="1630.2" cy="2710.1" r="10.5"/><circle cx="1647" cy="2739.6" r="10.5"/><circle cx="1663.9" cy="2769.2" r="10.5"/><circle cx="1685" cy="2798.7" r="10.5"/><circle cx="1701.8" cy="2828.2" r="10.5"/><circle cx="1718.7" cy="2857.7" r="10.5"/><circle cx="1739.8" cy="2887.2" r="10.5"/><circle cx="1756.6" cy="2920.9" r="10.5"/><circle cx="1773.5" cy="2950.4" r="10.5"/><circle cx="1794.6" cy="2984.1" r="10.5"/><circle cx="1811.4" cy="3017.9" r="10.5"/><circle cx="1832.5" cy="3051.6" r="10.5"/><circle cx="1849.4" cy="3085.3" r="10.5"/><circle cx="1866.2" cy="3119" r="10.5"/><circle cx="1887.3" cy="3152.8" r="10.5"/><circle cx="1904.2" cy="3186.5" r="10.5"/><circle cx="1921" cy="3224.4" r="10.5"/><circle cx="1942.1" cy="3258.2" r="10.5"/><circle cx="1959" cy="3296.1" r="10.5"/><circle cx="1975.8" cy="3334" r="10.5"/><circle cx="1996.9" cy="3372" r="10.5"/><circle cx="2013.8" cy="3409.9" r="10.5"/><circle cx="2030.6" cy="3447.9" r="10.5"/><circle cx="2051.7" cy="3485.8" r="10.5"/></g>
<polyline points="222.2,3485.8 239.1,3464.7 255.9,3443.6 277,3422.6 293.9,3397.3 310.7,3372 331.8,3346.7 348.7,3317.2 365.5,3287.7 386.6,3258.2 403.5,3224.4 420.3,3194.9 441.4,3161.2 458.3,3127.5 475.1,3089.5 496.2,3055.8 513.1,3017.9 529.9,2984.1 551,2946.2 567.9,2912.5 584.7,2874.5 605.8,2836.6 622.7,2802.9 639.5,2764.9 660.6,2731.2 677.5,2693.3 694.3,2659.5 715.4,2625.8 732.3,2596.3 749.1,2562.6 770.2,2533.1 787.1,2503.6 803.9,2474.1 825,2444.5 841.9,2419.3 858.7,2394 879.8,2368.7 896.7,2347.6 913.5,2326.5 934.6,2305.4 951.5,2288.6 972.5,2271.7 989.4,2254.8 1006.3,2242.2 1027.3,2229.6 1044.2,2216.9 1061.1,2208.5 1082.1,2200 1099,2195.8 1115.9,2191.6 1136.9,2187.4 1153.8,2187.4 1170.7,2187.4 1191.8,2187.4 1208.6,2191.6 1225.5,2195.8 1246.6,2200 1263.4,2208.5 1280.3,2216.9 1301.4,2225.3 1318.2,2238 1335.1,2250.6 1356.2,2263.3 1373,2280.1 1389.9,2297 1411,2313.9 1427.8,2330.7 1444.7,2351.8 1465.8,2372.9 1482.6,2394 1499.5,2419.3 1520.6,2440.3 1537.4,2465.6 1554.3,2495.1 1575.4,2520.4 1592.2,2549.9 1609.1,2579.4 1630.2,2609 1647,2638.5 1663.9,2668 1685,2701.7 1701.8,2735.4 1718.7,2769.2 1739.8,2802.9 1756.6,2840.8 1773.5,2874.5 1794.6,2912.5 1811.4,2950.4 1832.5,2988.4 1849.4,3026.3 1866.2,3064.2 1887.3,3102.2 1904.2,3144.3 1921,3186.5 1942.1,3224.4 1959,3266.6 1975.8,3308.7 1996.9,3355.1 2013.8,3397.3 2030.6,3439.4 2051.7,3485.8" fill="none" stroke="#008000" stroke-width="9.0" stroke-linejoin="round" stroke-linecap="round" clip-path="url(#c2)"/>
<g fill="#008000"><circle cx="222.2" cy="3485.8" r="10.5"/><circle cx="239.1" cy="3464.7" r="10.5"/><circle cx="255.9" cy="3443.6" r="10.5"/><circle cx="277" cy="3422.6" r="10.5"/><circle cx="293.9" cy="3397.3" r="10.5"/><circle cx="310.7" cy="3372" r="10.5"/><circle cx="331.8" cy="3346.7" r="10.5"/><circle cx="348.7" cy="3317.2" r="10.5"/><circle cx="365.5" cy="3287.7" r="10.5"/><circle cx="386.6" cy="3258.2" r="10.5"/><circle cx="403.5" cy="3224.4" r="10.5"/><circle cx="420.3" cy="3194.9" r="10.5"/><circle cx="441.4" cy="3161.2" r="10.5"/><circle cx="458.3" cy="3127.5" r="10.5"/><circle cx="475.1" cy="3089.5" r="10.5"/><circle cx="496.2" cy="3055.8" r="10.5"/><circle cx="513.1" cy="3017.9" r="10.5"/><circle cx="529.9" cy="2984.1" r="10.5"/><circle cx="551" cy="2946.2" r="10.5"/><circle cx="567.9" cy="2912.5" r="10.5"/><circle cx="584.7" cy="2874.5" r="10.5"/><circle cx="605.8" cy="2836.6" r="10.5"/><circle cx="622.7" cy="2802.9" r="10.5"/><circle cx="639.5" cy="2764.9" r="10.5"/><circle cx="660.6" cy="2731.2" r="10.5"/><circle cx="677.5" cy="2693.3" r="10.5"/><circle cx="694.3" cy="2659.5" r="10.5"/><circle cx="715.4" cy="2625.8" r="10.5"/><circle cx="732.3" cy="2596.3" r="10.5"/><circle cx="749.1" cy="2562.6" r="10.5"/><circle cx="770.2" cy="2533.1" r="10.5"/><circle cx="787.1" cy="2503.6" r="10.5"/><circle cx="803.9" cy="2474.1" r="10.5"/><circle cx="825" cy="2444.5" r="10.5"/><circle cx="841.9" cy="2419.3" r="10.5"/><circle cx="858.7" cy="2394" r="10.5"/><circle cx="879.8" cy="2368.7" r="10.5"/><circle cx="896.7" cy="2347.6" r="10.5"/><circle cx="913.5" cy="2326.5" r="10.5"/><circle cx="934.6" cy="2305.4" r="10.5"/><circle cx="951.5" cy="2288.6" r="10.5"/><circle cx="972.5" cy="2271.7" r="10.5"/><circle cx="989.4" cy="2254.8" r="10.5"/><circle cx="1006.3" cy="2242.2" r="10.5"/><circle cx="1027.3" cy="2229.6" r="10.5"/><circle cx="1044.2" cy="2216.9" r="10.5"/><circle cx="1061.1" cy="2208.5" r="10.5"/><circle cx="1082.1" cy="2200" r="10.5"/><circle cx="1099" cy="2195.8" r="10.5"/><circle cx="1115.9" cy="2191.6" r="10.5"/><circle cx="1136.9" cy="2187.4" r="10.5"/><circle cx="1153.8" cy="2187.4" r="10.5"/><circle cx="1170.7" cy="2187.4" r="10.5"/><circle cx="1191.8" cy="2187.4" r="10.5"/><circle cx="1208.6" cy="2191.6" r="10.5"/><circle cx="1225.5" cy="2195.8" r="10.5"/><circle cx="1246.6" cy="2200" r="10.5"/><circle cx="1263.4" cy="2208.5" r="10.5"/><circle cx="1280.3" cy="2216.9" r="10.5"/><circle cx="1301.4" cy="2225.3" r="10.5"/><circle cx="1318.2" cy="2238" r="10.5"/><circle cx="1335.1" cy="2250.6" r="10.5"/><circle cx="1356.2" cy="2263.3" r="10.5"/><circle cx="1373" cy="2280.1" r="10.5"/><circle cx="1389.9" cy="2297" r="10.5"/><circle cx="1411" cy="2313.9" r="10.5"/><circle cx="1427.8" cy="2330.7" r="10.5"/><circle cx="1444.7" cy="2351.8" r="10.5"/><circle cx="1465.8" cy="2372.9" r="10.5"/><circle cx="1482.6" cy="2394" r="10.5"/><circle cx="1499.5" cy="2419.3" r="10.5"/><circle cx="1520.6" cy="2440.3" r="10.5"/><circle cx="1537.4" cy="2465.6" r="10.5"/><circle cx="1554.3" cy="2495.1" r="10.5"/><circle cx="1575.4" cy="2520.4" r="10.5"/><circle cx="1592.2" cy="2549.9" r="10.5"/><circle cx="1609.1" cy="2579.4" r="10.5"/><circle cx="1630.2" cy="2609" r="10.5"/><circle cx="1647" cy="2638.5" r="10.5"/><circle cx="1663.9" cy="2668" r="10.5"/><circle cx="1685" cy="2701.7" r="10.5"/><circle cx="1701.8" cy="2735.4" r="10.5"/><circle cx="1718.7" cy="2769.2" r="10.5"/><circle cx="1739.8" cy="2802.9" r="10.5"/><circle cx="1756.6" cy="2840.8" r="10.5"/><circle cx="1773.5" cy="2874.5" r="10.5"/><circle cx="1794.6" cy="2912.5" r="10.5"/><circle cx="1811.4" cy="2950.4" r="10.5"/><circle cx="1832.5" cy="2988.4" r="10.5"/><circle cx="1849.4" cy="3026.3" r="10.5"/><circle cx="1866.2" cy="3064.2" r="10.5"/><circle cx="1887.3" cy="3102.2" r="10.5"/><circle cx="1904.2" cy="3144.3" r="10.5"/><circle cx="1921" cy="3186.5" r="10.5"/><circle cx="1942.1" cy="3224.4" r="10.5"/><circle cx="1959" cy="3266.6" r="10.5"/><circle cx="1975.8" cy="3308.7" r="10.5"/><circle cx="1996.9" cy="3355.1" r="10.5"/><circle cx="2013.8" cy="3397.3" r="10.5"/><circle cx="2030.6" cy="3439.4" r="10.5"/><circle cx="2051.7" cy="3485.8" r="10.5"/></g>
<path d="M206.2 3485.8H238.2M222.2 3469.8V3501.8M223.1 3473.2H255.1M239.1 3457.2V3489.2M239.9 3456.3H271.9M255.9 3440.3V3472.3M277.9 3414.1H309.9M293.9 3398.1V3430.1M315.8 3342.5H347.8M331.8 3326.5V3358.5M370.6 3216H402.6M386.6 3200V3232M425.4 3102.2H457.4M441.4 3086.2V3118.2M459.1 3060H491.1M475.1 3044V3076M497.1 2971.5H529.1M513.1 2955.5V2987.5M551.9 2916.7H583.9M567.9 2900.7V2932.7M623.5 2807.1H655.5M639.5 2791.1V2823.1M699.4 2668H731.4M715.4 2652V2684M754.2 2587.9H786.2M770.2 2571.9V2603.9M809 2533.1H841M825 2517.1V2549.1M842.7 2478.3H874.7M858.7 2462.3V2494.3M880.7 2440.3H912.7M896.7 2424.3V2456.3M935.5 2419.3H967.5M951.5 2403.3V2435.3M973.4 2402.4H1005.4M989.4 2386.4V2418.4M1028.2 2377.1H1060.2M1044.2 2361.1V2393.1M1066.1 2351.8H1098.1M1082.1 2335.8V2367.8M1099.9 2351.8H1131.9M1115.9 2335.8V2367.8M1120.9 2347.6H1152.9M1136.9 2331.6V2363.6M1154.7 2343.4H1186.7M1170.7 2327.4V2359.4M1192.6 2343.4H1224.6M1208.6 2327.4V2359.4M1230.6 2360.2H1262.6M1246.6 2344.2V2376.2M1264.3 2377.1H1296.3M1280.3 2361.1V2393.1M1302.2 2398.2H1334.2M1318.2 2382.2V2414.2M1340.2 2415H1372.2M1356.2 2399V2431M1373.9 2436.1H1405.9M1389.9 2420.1V2452.1M1411.8 2478.3H1443.8M1427.8 2462.3V2494.3M1449.8 2512H1481.8M1465.8 2496V2528M1483.5 2549.9H1515.5M1499.5 2533.9V2565.9M1521.4 2596.3H1553.4M1537.4 2580.3V2612.3M1559.4 2625.8H1591.4M1575.4 2609.8V2641.8M1593.1 2676.4H1625.1M1609.1 2660.4V2692.4M1631 2731.2H1663M1647 2715.2V2747.2M1669 2786H1701M1685 2770V2802M1702.7 2845H1734.7M1718.7 2829V2861M1740.6 2904H1772.6M1756.6 2888V2920M1778.6 2954.6H1810.6M1794.6 2938.6V2970.6M1816.5 3038.9H1848.5M1832.5 3022.9V3054.9M1850.2 3102.2H1882.2M1866.2 3086.2V3118.2M1888.2 3169.6H1920.2M1904.2 3153.6V3185.6M1926.1 3253.9H1958.1M1942.1 3237.9V3269.9M1959.8 3313H1991.8M1975.8 3297V3329M1997.8 3393.1H2029.8M2013.8 3377.1V3409.1M2035.7 3485.8H2067.7M2051.7 3469.8V3501.8" fill="none" stroke="#ff0000" stroke-width="9.0" stroke-linecap="round"/>
<text x="449.3" y="2002" font-size="81" letter-spacing="0.87">Ro=10000</text>
<text x="856.4" y="2002" font-size="81" letter-spacing="-2.74">Ohms</text>
<text x="1096.6" y="2002" font-size="81" letter-spacing="-6.50">to</text>
<text x="1177.2" y="2002" font-size="81" letter-spacing="0.85">25</text>
<text x="1323" y="2002" font-size="81" letter-spacing="4.30">C,</text>
<text x="1470.2" y="2002" font-size="81" letter-spacing="0.64">=4100</text>
<text x="1752.7" y="2002" font-size="81">K</text>
<text x="1294" y="1966.5" font-size="60">o</text>
<text x="1722.3" y="1966.5" font-size="60">o</text>
<text x="1427.4" y="2002" font-size="81" class="s">β</text>
<text x="895.4" y="3635.7" font-size="68.5" letter-spacing="-3.91">Input</text>
<text x="1050.8" y="3635.7" font-size="68.5" letter-spacing="-1.27">signal</text>
<text x="1238" y="3635.7" font-size="68.5" letter-spacing="-0.79">[0,1]</text>
<text x="103.2" y="3391.7" font-size="68.5" transform="rotate(-90 103.2 3391.7)">%</text>
<text x="103.2" y="3317.2" font-size="68.5" letter-spacing="-0.53" transform="rotate(-90 103.2 3317.2)">Error</text>
<text x="103.2" y="3153.6" font-size="68.5" letter-spacing="-0.22" transform="rotate(-90 103.2 3153.6)">relative</text>
<text x="103.2" y="2916.8" font-size="68.5" letter-spacing="6.90" transform="rotate(-90 103.2 2916.8)">of</text>
<text x="103.2" y="2845.6" font-size="68.5" letter-spacing="0.37" transform="rotate(-90 103.2 2845.6)">nonlinearity</text>
<text x="103.2" y="2479.6" font-size="68.5" letter-spacing="-0.42" transform="rotate(-90 103.2 2479.6)">in</text>
<text x="103.2" y="2409.3" font-size="68.5" letter-spacing="0.24" transform="rotate(-90 103.2 2409.3)">the</text>
<text x="103.2" y="2298.2" font-size="68.5" letter-spacing="-0.92" transform="rotate(-90 103.2 2298.2)">output</text>
<text x="1144.5" y="3780" font-size="85" text-anchor="middle" class="s">(b)</text>
<rect x="1192.3" y="3225.3" width="668.7" height="256.5" fill="#fff" stroke="#000" stroke-width="1"/>
<line x1="1226.9" y1="3271" x2="1393.3" y2="3271" stroke="#0000ff" stroke-width="9.0" stroke-linecap="round"/>
<circle cx="1311" cy="3272.3" r="10.5" fill="#0000ff"/>
<text x="1412" y="3290.8" font-size="56" letter-spacing="-0.42">Sensor</text>
<text x="1602.4" y="3290.8" font-size="56" letter-spacing="-0.49">simulated</text>
<line x1="1226.9" y1="3350.7" x2="1393.3" y2="3350.7" stroke="#008000" stroke-width="9.0" stroke-linecap="round"/>
<circle cx="1311" cy="3352" r="10.5" fill="#008000"/>
<text x="1412" y="3370" font-size="56" letter-spacing="-0.71">Signal</text>
<text x="1580.5" y="3370" font-size="56" letter-spacing="-0.61">teorical</text>
<path d="M1293 3431.4H1325M1309 3415.4V3447.4" fill="none" stroke="#ff0000" stroke-width="9.0" stroke-linecap="round"/>
<text x="1411" y="3450.6" font-size="56" letter-spacing="-1.58">Real</text>
</svg>
</body></html>
